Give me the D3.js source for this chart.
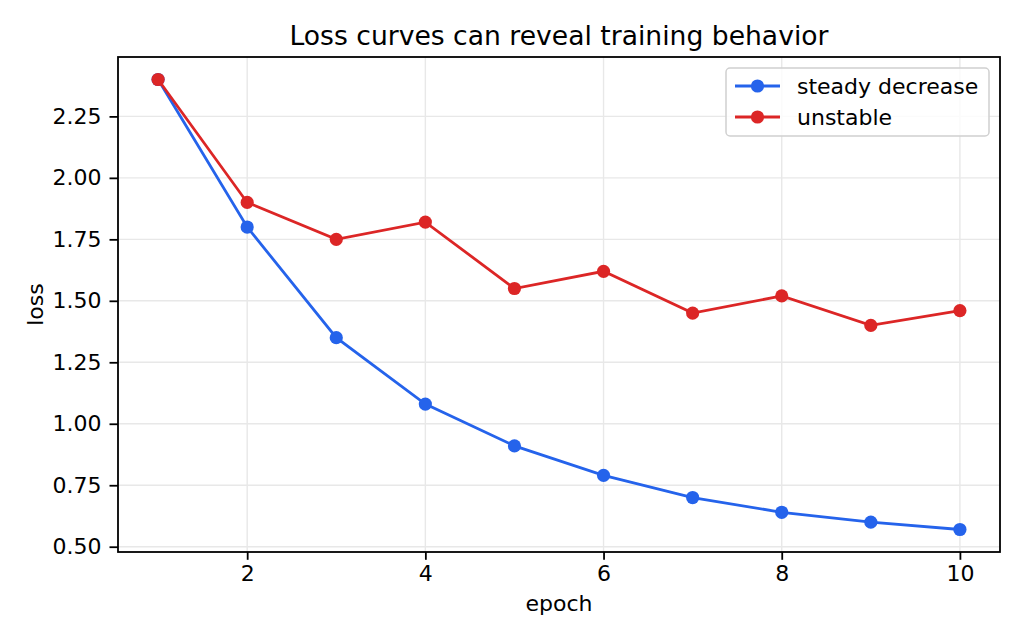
<!DOCTYPE html>
<html>
<head>
<meta charset="utf-8">
<script src="https://cdn.jsdelivr.net/npm/d3@7"></script>
<style>
  body { margin: 0; background: #fff; }
  svg text { font-family: "DejaVu Sans", sans-serif; }
  .grid line { stroke: #e8e8e8; stroke-width: 1.4; }
  .axis line { stroke: #000; stroke-width: 1.8; }
  .axis text { font-size: 22px; fill: #000; }
</style>
</head>
<body>
<script>
const epochs = [1, 2, 3, 4, 5, 6, 7, 8, 9, 10];
const steady = [2.40, 1.80, 1.35, 1.08, 0.91, 0.79, 0.70, 0.64, 0.60, 0.57];
const unstable = [2.40, 1.90, 1.75, 1.82, 1.55, 1.62, 1.45, 1.52, 1.40, 1.46];
const xTicks = [2, 4, 6, 8, 10];
const yTicks = [0.50, 0.75, 1.00, 1.25, 1.50, 1.75, 2.00, 2.25];
const seriesNames = ["steady decrease", "unstable"];
const seriesColors = ["#2563eb", "#dc2626"];

const width = 1024, height = 640;
const margin = {left: 118, right: 24, top: 57, bottom: 88};

const svg = d3.select("body").append("svg")
  .attr("width", width).attr("height", height);

// matplotlib-style 5% padding
const xs = d3.extent(epochs), xpad = (xs[1] - xs[0]) * 0.05;
const allY = steady.concat(unstable);
const ys = d3.extent(allY), ypad = (ys[1] - ys[0]) * 0.05;

const x = d3.scaleLinear().domain([xs[0] - xpad, xs[1] + xpad])
  .range([margin.left, width - margin.right]);
const y = d3.scaleLinear().domain([ys[0] - ypad, ys[1] + ypad])
  .range([height - margin.bottom, margin.top]);

// grid
const grid = svg.append("g").attr("class", "grid");
grid.selectAll(".gx").data(xTicks).enter().append("line")
  .attr("x1", d => x(d)).attr("x2", d => x(d))
  .attr("y1", margin.top).attr("y2", height - margin.bottom);
grid.selectAll(".gy").data(yTicks).enter().append("line")
  .attr("x1", margin.left).attr("x2", width - margin.right)
  .attr("y1", d => y(d)).attr("y2", d => y(d));

// lines + markers
const data = [steady, unstable];
const line = d3.line().x((d, i) => x(epochs[i])).y(d => y(d));
data.forEach(function(s, k) {
  svg.append("path").datum(s)
    .attr("d", line)
    .attr("fill", "none")
    .attr("stroke", seriesColors[k])
    .attr("stroke-width", 2.8);
  svg.append("g").selectAll("circle").data(s).enter().append("circle")
    .attr("cx", (d, i) => x(epochs[i]))
    .attr("cy", d => y(d))
    .attr("r", 6.6)
    .attr("fill", seriesColors[k]);
});

// axes
const xAxis = d3.axisBottom(x).tickValues(xTicks).tickSize(7.8).tickPadding(6)
  .tickFormat(d3.format("d"));
const yAxis = d3.axisLeft(y).tickValues(yTicks).tickSize(8.5).tickPadding(8)
  .tickFormat(d3.format(".2f"));
svg.append("g").attr("class", "axis")
  .attr("transform", "translate(0," + (height - margin.bottom) + ")")
  .call(xAxis).call(g => g.select(".domain").remove());
svg.append("g").attr("class", "axis")
  .attr("transform", "translate(" + margin.left + ",0)")
  .call(yAxis).call(g => g.select(".domain").remove());

// frame
svg.append("rect")
  .attr("x", margin.left).attr("y", margin.top)
  .attr("width", width - margin.left - margin.right)
  .attr("height", height - margin.top - margin.bottom)
  .attr("fill", "none").attr("stroke", "#000").attr("stroke-width", 1.8);

// labels
svg.append("text").attr("x", (margin.left + width - margin.right) / 2).attr("y", 45)
  .attr("text-anchor", "middle").attr("font-size", "26.6px")
  .text("Loss curves can reveal training behavior");
svg.append("text").attr("x", (margin.left + width - margin.right) / 2).attr("y", 611)
  .attr("text-anchor", "middle").attr("font-size", "22px").text("epoch");
svg.append("text").attr("transform", "translate(43," + ((margin.top + height - margin.bottom) / 2) + ") rotate(-90)")
  .attr("text-anchor", "middle").attr("font-size", "22px").text("loss");

// legend
const lg = svg.append("g").attr("transform", "translate(726,68)");
lg.append("rect").attr("width", 263).attr("height", 68).attr("rx", 4)
  .attr("fill", "#fff").attr("fill-opacity", 0.8)
  .attr("stroke", "#d0d0d0").attr("stroke-width", 1.5);
seriesNames.forEach(function(name, k) {
  const yy = 18 + k * 31;
  lg.append("line").attr("x1", 9).attr("x2", 54).attr("y1", yy).attr("y2", yy)
    .attr("stroke", seriesColors[k]).attr("stroke-width", 2.8);
  lg.append("circle").attr("cx", 31.5).attr("cy", yy).attr("r", 6.6).attr("fill", seriesColors[k]);
  lg.append("text").attr("x", 71).attr("y", yy + 7.5).attr("font-size", "22px").text(name);
});
</script>
</body>
</html>
